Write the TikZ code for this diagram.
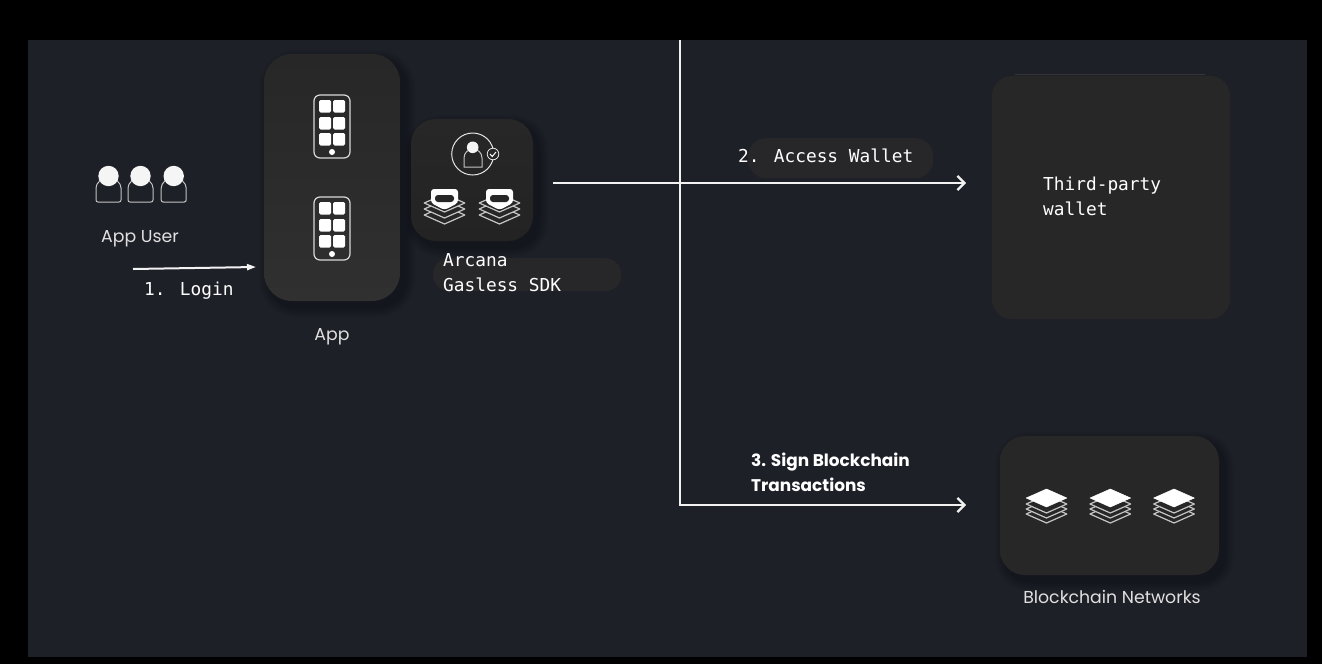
\documentclass[tikz,border=0pt]{standalone}
\usepackage{fontspec}
\setmainfont{Poppins}
\newfontfamily\monof{DejaVu Sans Mono}
\usetikzlibrary{arrows.meta,calc}
\definecolor{pagebg}{HTML}{1E2027}
\definecolor{cardtop}{HTML}{272727}
\definecolor{cardbot}{HTML}{303030}
\definecolor{pillc}{HTML}{27272A}
\definecolor{linec}{HTML}{F2F2F2}
\definecolor{greyline}{HTML}{C4C4C4}
\tikzset{
  card/.style={draw=none,inner sep=0pt,outer sep=0pt,anchor=north west,top color=cardtop,bottom color=cardbot,shading angle=0},
  pill/.style={draw=none,fill=pillc,inner sep=0pt,anchor=north west},
  mono/.style={text=white,inner sep=0pt,anchor=mid west,yshift=-4pt,font=\monof\fontsize{17.8}{18}\selectfont},
  sans/.style={text=white!88!black,inner sep=0pt,anchor=mid,yshift=-3.5pt,font=\fontsize{17.3}{18}\selectfont},
  bold/.style={text=white,inner sep=0pt,anchor=mid west,yshift=-3.5pt,font=\bfseries\fontsize{16.9}{18}\selectfont},
  link/.style={draw=linec,line width=2.2pt},
  tipopen/.style={-{Straight Barb[length=7pt,width=14pt,line width=2.2pt]}},
  tipsolid/.style={-{Triangle[length=9pt,width=6pt]}},
  thin outline/.style={draw=greyline,line width=1pt},
}
% soft shadow (x0,y0,x1,y1,radius)
\newcommand{\softshadow}[5]{%
  \foreach \d in {10,8,6,4,2}{%
    \fill[black,opacity=0.05,rounded corners={#5pt+\d pt}]
      (#1+5-\d,#2+6-\d) rectangle (#3+5+\d,#4+6+\d);
  }}
\newcommand{\phoneicon}[2]{%
  \begin{scope}[shift={(#1,#2)}]
    \draw[thin outline,draw=white!85!black,line width=1.2pt,rounded corners=6pt] (-18,0) rectangle (18,63);
    \foreach \px in {-13,1}\foreach \py in {5,22,38}{\fill[white,rounded corners=1.5pt] (\px,\py) rectangle ++(12,12.5);}
    \fill[white] (0,57) circle (3pt);
  \end{scope}}
\newcommand{\usericon}[2]{%
  \begin{scope}[shift={(#1,#2)}]
    \draw[thin outline,rounded corners=2pt] (-12.5,26) -- (-12.5,14) arc[start angle=180,end angle=0,radius=12.5pt] -- (12.5,26) -- cycle;
    \fill[white!96!black] (0,0) circle (10.2pt);
  \end{scope}}
\newcommand{\layerpath}[3]{(#1-20.3,#2) -- (#1,#2-#3) -- (#1+20.3,#2) -- (#1,#2+#3) -- cycle}
\newcommand{\stackicon}[2]{%
  \begin{scope}[line join=round]
    \foreach \oy in {16,11,6}{\draw[greyline,line width=1.2pt,fill=cardtop] \layerpath{#1}{#2+\oy}{9};}
    \fill[white,line join=round,draw=white,line width=.5pt] \layerpath{#1}{#2}{9};
  \end{scope}}
\newcommand{\sdkstack}[2]{%
  \begin{scope}[line join=round]
    \foreach \oy in {26,20,14}{\draw[greyline,line width=1.2pt,fill=cardtop] \layerpath{#1}{#2+\oy}{9};}
    \fill[white,rounded corners=3pt] (#1-13.5,#2) -- (#1+13.5,#2) -- (#1+13.5,#2+14) -- (#1,#2+21) -- (#1-13.5,#2+14) -- cycle;
    \fill[cardtop,rounded corners=3pt] (#1-9.5,#2+6) rectangle (#1+9.5,#2+13);
  \end{scope}}
\begin{document}
\begin{tikzpicture}[x=1pt,y=-1pt]
\useasboundingbox (0,0) rectangle (1322,664);
\fill[black] (0,0) rectangle (1322,664);
\fill[pagebg] (28,40) rectangle (1307,657);

% pills
\node[pill,rounded corners=18pt,minimum width=185pt,minimum height=40pt] (pillwallet) at (748,138) {};
\node[pill,rounded corners=16pt,minimum width=188pt,minimum height=33pt] (pillsdk) at (433,258) {};

% cards
\softshadow{264}{54}{400}{301}{28}
\node[card,rounded corners=28pt,minimum width=136pt,minimum height=247pt] (app) at (264,54) {};
\softshadow{411}{119}{533}{241}{25}
\node[card,rounded corners=25pt,minimum width=122pt,minimum height=122pt,top color=cardtop,bottom color=cardtop!90!black] (sdk) at (411,119) {};
\draw[white!30!black,line width=.6pt,opacity=.5] (1015,74.5) -- (1205,74.5);
\node[card,rounded corners=20pt,minimum width=238pt,minimum height=243pt,top color=cardtop,bottom color=cardtop] (wallet) at (992,76) {};
\softshadow{1000}{436}{1219}{575}{25}
\node[card,rounded corners=25pt,minimum width=219pt,minimum height=139pt,top color=cardtop,bottom color=cardtop] (chains) at (1000,436) {};

% users
\usericon{108.5}{176}
\usericon{140.5}{176}
\usericon{173.7}{176}
\node[sans] (userlabel) at (140,236) {App User};

% phones
\phoneicon{332}{95}
\phoneicon{332}{197}

% sdk icon
\draw[white!90!black,line width=1pt] (472.7,154) circle (21pt);
\draw[thin outline] (464,167) -- (464,158) arc[start angle=180,end angle=0,radius=9pt] -- (482,167) -- cycle;
\fill[white!96!black] (472.7,147.3) circle (5.8pt);
\draw[white!90!black,fill=cardtop,line width=.8pt] (493,154) circle (5.8pt);
\draw[white,line width=1pt] (490,154) -- (492.3,156.5) -- (496,152);
\sdkstack{444.5}{189}
\sdkstack{499.5}{189}

% chain icons
\stackicon{1046.5}{498}
\stackicon{1110.3}{498}
\stackicon{1174}{498}

% free ends
\coordinate (loginstart) at (133,269);
\coordinate (trunktop) at (680,40);
\coordinate (trunkfoot) at (680,505);

% connectors: yshift is upward, measured from the cards' mid-height
\draw[draw=linec,line width=2pt,tipsolid] (loginstart) -- ([xshift=-8pt,yshift=-89.5pt]app.west);
\draw[link,tipopen] ([xshift=20pt,yshift=-3pt]sdk.east) -- ([xshift=-26pt,yshift=14.5pt]wallet.west);
\draw[link,tipopen] (trunktop) -- (trunkfoot) -- ([xshift=-34pt,yshift=0.5pt]chains.west);

% labels
\node[mono] (t1) at (144,289) {1. Login};
\node[sans] (t2) at (332,334) {App};
\node[mono] (t3) at (443,260) {Arcana};
\node[mono] (t4) at (443,285) {Gasless SDK};
\node[mono] (t5) at (738,156) {2. Access Wallet};
\node[mono] (t6) at (1043,184) {Third-party};
\node[mono] (t7) at (1043,209) {wallet};
\node[bold] (t8) at (751,460) {3. Sign Blockchain};
\node[bold] (t9) at (751,485) {Transactions};
\node[sans] (t10) at (1112,597) {Blockchain Networks};
\end{tikzpicture}
\end{document}
